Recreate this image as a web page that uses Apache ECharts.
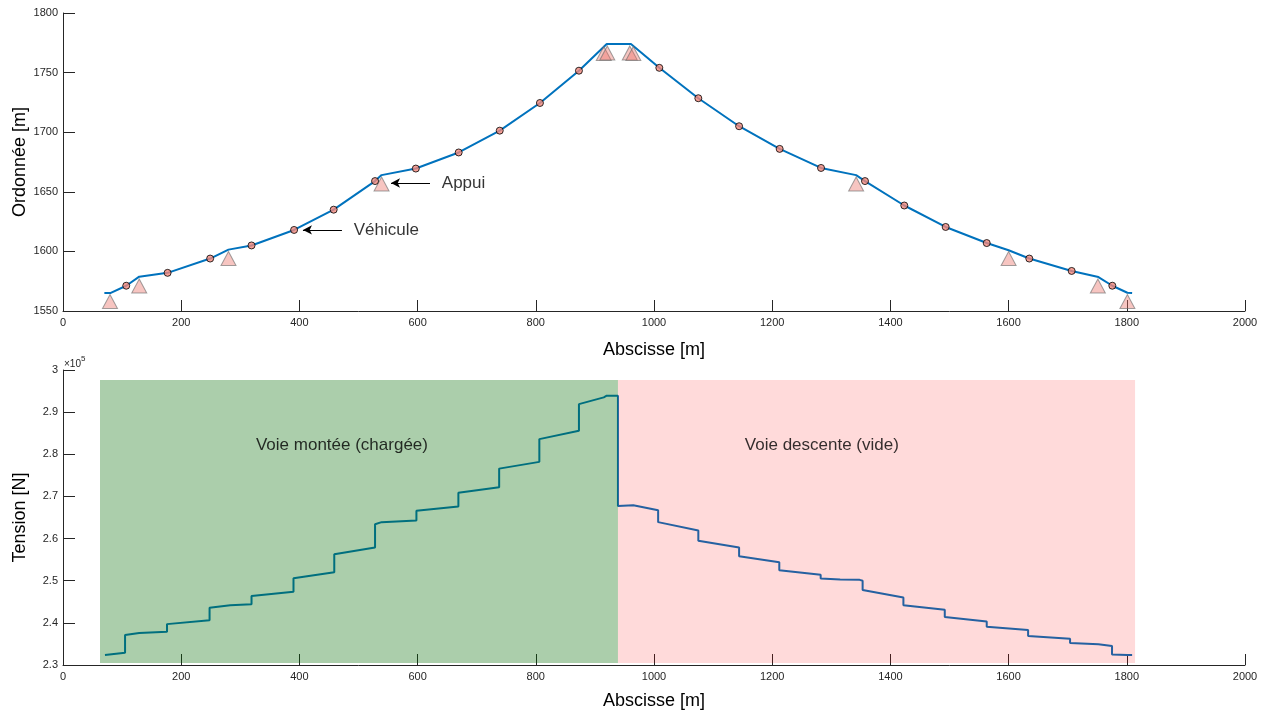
<!DOCTYPE html>
<html>
<head>
<meta charset="utf-8">
<script src="https://cdn.jsdelivr.net/npm/echarts@6/dist/echarts.min.js"></script>
<style>html,body{margin:0;padding:0;background:#fff}#c{width:1268px;height:713px}</style>
</head>
<body>
<div id="c"></div>
<script>
// ---------- DATA ----------
// Ground/cable profile vertices [abscisse m, ordonnée m]
const profileX = [70, 80, 107, 129, 177, 249, 280, 319, 391, 458, 528, 539, 597, 669.5, 739, 807, 873, 920, 961, 1009, 1075, 1144, 1212.6, 1282.6, 1342, 1357, 1423.5, 1493.5, 1563, 1600, 1635, 1706.7, 1752, 1775.5, 1801, 1809];
const profileY = [1565, 1565, 1571.2, 1578.8, 1582, 1594, 1601.5, 1605, 1618, 1635, 1659, 1664, 1669.5, 1683, 1701.3, 1724.5, 1751.6, 1774, 1774, 1754, 1728.5, 1705, 1686, 1670, 1664, 1659, 1638.5, 1620.5, 1607, 1601, 1594, 1583.6, 1578.5, 1571.2, 1565.3, 1565];
// Vehicles (dots)
const vehX = [107, 177, 249, 319, 391, 458, 528, 597, 669.5, 739, 807, 873, 1009, 1075, 1144, 1212.6, 1282.6, 1357, 1423.5, 1493.5, 1563, 1635, 1706.7, 1775.5];
const vehY = [1571.2, 1582, 1594, 1605, 1618, 1635, 1659, 1669.5, 1683, 1701.3, 1724.5, 1751.6, 1754, 1728.5, 1705, 1686, 1670, 1659, 1638.5, 1620.5, 1607, 1594, 1583.6, 1571.2];
// Supports (triangles)
const supX = [79.5, 129, 280, 539, 915, 921, 959, 965, 1342, 1600, 1751, 1801];
const supY = [1558, 1571, 1594, 1656.5, 1766, 1766.5, 1766.5, 1766, 1656.5, 1594, 1571, 1558];
// Tension step curve [abscisse m, tension N]
const tensX = [71, 105, 105, 129, 176, 176, 248, 248, 283, 319, 319, 390, 390, 459, 459, 528, 528, 539, 598, 598, 669, 669, 738, 738, 806, 806, 873, 873, 915, 920, 939, 939, 965, 1007, 1007, 1075, 1075, 1144, 1144, 1212, 1212, 1282, 1282, 1315, 1348, 1353, 1353, 1422, 1422, 1492, 1492, 1563, 1563, 1633, 1633, 1704, 1704, 1752, 1775, 1775, 1801, 1809];
const tensY = [232400, 232900, 237100, 237600, 237900, 239700, 240600, 243600, 244200, 244400, 246400, 247400, 250600, 252000, 256300, 257900, 263400, 263900, 264300, 266600, 267600, 270900, 272200, 276600, 278200, 283600, 285600, 291900, 293500, 293900, 293900, 267700, 267900, 266700, 263900, 261900, 259500, 257900, 255800, 254400, 252500, 251400, 250500, 250300, 250200, 250000, 247800, 246000, 244200, 243100, 241400, 240300, 239100, 238300, 236900, 236200, 235200, 234900, 234500, 232500, 232400, 232400];
// Shaded zones [x0, x1, y0, y1]
const zoneUp = [62.6, 939, 230500, 297600];
const zoneDown = [939, 1814, 230500, 297600];
const zoneLabels = ['Voie montée (chargée)', 'Voie descente (vide)'];
const zoneLabelX = [472, 1284];
const zoneLabelY = [282100, 282100];
// Annotations
const annoText = ['Appui', 'Véhicule'];
const annoTextX = [641, 492];
const annoY = [1657.4, 1618];
const arrowFromX = [621, 472];
const arrowToX = [555, 406];
// Axis ticks
const xTicks = [0, 200, 400, 600, 800, 1000, 1200, 1400, 1600, 1800, 2000];
const yTopTicks = [1550, 1600, 1650, 1700, 1750, 1800];
const yBotTicks = [230000, 240000, 250000, 260000, 270000, 280000, 290000, 300000];

// ---------- CHART ----------
const FONT = 'Liberation Sans, Arial, Helvetica, sans-serif';
const zip = (a, b) => a.map((v, i) => [v, b[i]]);
const chart = echarts.init(document.getElementById('c'), null, {renderer: 'canvas'});

function xAxisCfg(gi, gap) {
  return {
    type: 'value', gridIndex: gi, min: xTicks[0], max: xTicks[xTicks.length - 1],
    interval: xTicks[1] - xTicks[0],
    name: 'Abscisse [m]', nameLocation: 'middle', nameGap: gap, nameMoveOverlap: false,
    nameTextStyle: {fontFamily: FONT, fontSize: 18, color: '#000'},
    axisLine: {onZero: false, lineStyle: {color: '#262626', width: 1}},
    axisTick: {inside: true, length: 11, lineStyle: {color: '#262626'}},
    axisLabel: {fontFamily: FONT, fontSize: 11, color: '#262626', margin: 6, formatter: v => String(v)},
    splitLine: {show: false}
  };
}

const option = {
  animation: false,
  backgroundColor: '#fff',
  grid: [
    {left: 63, right: 23, top: 13, height: 298, containLabel: false, outerBoundsMode: 'none'},
    {left: 63, right: 23, top: 370, height: 295, containLabel: false, outerBoundsMode: 'none'}
  ],
  xAxis: [xAxisCfg(0, 30), xAxisCfg(1, 27)],
  yAxis: [
    {
      type: 'value', gridIndex: 0, min: yTopTicks[0], max: yTopTicks[yTopTicks.length - 1],
      interval: yTopTicks[1] - yTopTicks[0],
      name: 'Ordonnée [m]', nameLocation: 'middle', nameGap: 34, nameMoveOverlap: false,
      nameTextStyle: {fontFamily: FONT, fontSize: 18, color: '#000'},
      axisLine: {show: true, onZero: false, lineStyle: {color: '#262626', width: 1}},
      axisTick: {show: true, inside: true, length: 12, lineStyle: {color: '#262626'}},
      axisLabel: {fontFamily: FONT, fontSize: 11, color: '#262626', margin: 5, formatter: v => String(v)},
      splitLine: {show: false}
    },
    {
      type: 'value', gridIndex: 1, min: yBotTicks[0], max: yBotTicks[yBotTicks.length - 1],
      interval: yBotTicks[1] - yBotTicks[0],
      name: 'Tension [N]', nameLocation: 'middle', nameGap: 34, nameMoveOverlap: false,
      nameTextStyle: {fontFamily: FONT, fontSize: 18, color: '#000'},
      axisLine: {show: true, onZero: false, lineStyle: {color: '#262626', width: 1}},
      axisTick: {show: true, inside: true, length: 12, lineStyle: {color: '#262626'}},
      axisLabel: {fontFamily: FONT, fontSize: 11, color: '#262626', margin: 5,
        formatter: v => String(Math.round(v / 1000) / 100)},
      splitLine: {show: false}
    }
  ],
  graphic: [{
    type: 'text', left: 64, top: 355,
    style: {
      text: '{a|×10}{b|5}', fontFamily: FONT,
      rich: {
        a: {fontSize: 10, fill: '#262626', fontFamily: FONT, verticalAlign: 'bottom'},
        b: {fontSize: 8, fill: '#262626', fontFamily: FONT, verticalAlign: 'top', padding: [0, 0, 6, 0]}
      }
    }
  }],
  series: [
    {
      type: 'line', xAxisIndex: 0, yAxisIndex: 0, z: 2,
      data: zip(profileX, profileY), showSymbol: false,
      lineStyle: {color: '#0072BD', width: 2},
      markLine: {
        silent: true, symbol: ['none', 'arrow'], symbolSize: [7, 9],
        label: {show: false},
        lineStyle: {color: '#000', width: 1, type: 'solid'},
        data: arrowFromX.map((x, i) => [{coord: [x, annoY[i]]}, {coord: [arrowToX[i], annoY[i]]}])
      }
    },
    {
      type: 'scatter', xAxisIndex: 0, yAxisIndex: 0, z: 3,
      data: zip(supX, supY), symbol: 'triangle', symbolSize: [15, 14],
      itemStyle: {color: 'rgba(235,110,100,0.5)', borderColor: 'rgba(110,110,110,0.8)', borderWidth: 1}
    },
    {
      type: 'scatter', xAxisIndex: 0, yAxisIndex: 0, z: 4,
      data: zip(vehX, vehY), symbol: 'circle', symbolSize: 7,
      itemStyle: {color: '#f3877b', borderColor: '#000', borderWidth: 1}
    },
    {
      type: 'scatter', xAxisIndex: 0, yAxisIndex: 0, z: 5, symbolSize: 0,
      data: annoText.map((t, i) => ({name: t, value: [annoTextX[i], annoY[i]]})),
      label: {show: true, position: 'right', distance: 0, formatter: p => p.name,
        fontFamily: FONT, fontSize: 17, color: '#000'}
    },
    {
      type: 'line', xAxisIndex: 1, yAxisIndex: 1, z: 2,
      data: zip(tensX, tensY), showSymbol: false,
      lineStyle: {color: '#0072BD', width: 2}
    },
    {
      type: 'custom', xAxisIndex: 1, yAxisIndex: 1, z: 6, silent: true,
      data: [zoneUp.concat([0]), zoneDown.concat([1])],
      renderItem: function (params, api) {
        const p0 = api.coord([api.value(0), api.value(3)]);
        const p1 = api.coord([api.value(1), api.value(2)]);
        const fills = ['rgba(0,106,0,0.33)', 'rgba(255,0,0,0.145)'];
        return {
          type: 'rect',
          shape: {x: p0[0], y: p0[1], width: p1[0] - p0[0], height: p1[1] - p0[1]},
          style: {fill: fills[api.value(4)]}
        };
      }
    },
    {
      type: 'scatter', xAxisIndex: 1, yAxisIndex: 1, z: 7, symbolSize: 0,
      data: zoneLabels.map((t, i) => ({name: t, value: [zoneLabelX[i], zoneLabelY[i]]})),
      label: {show: true, position: 'inside', formatter: p => p.name,
        fontFamily: FONT, fontSize: 17, color: '#000'}
    }
  ]
};
chart.setOption(option);
</script>
</body>
</html>
